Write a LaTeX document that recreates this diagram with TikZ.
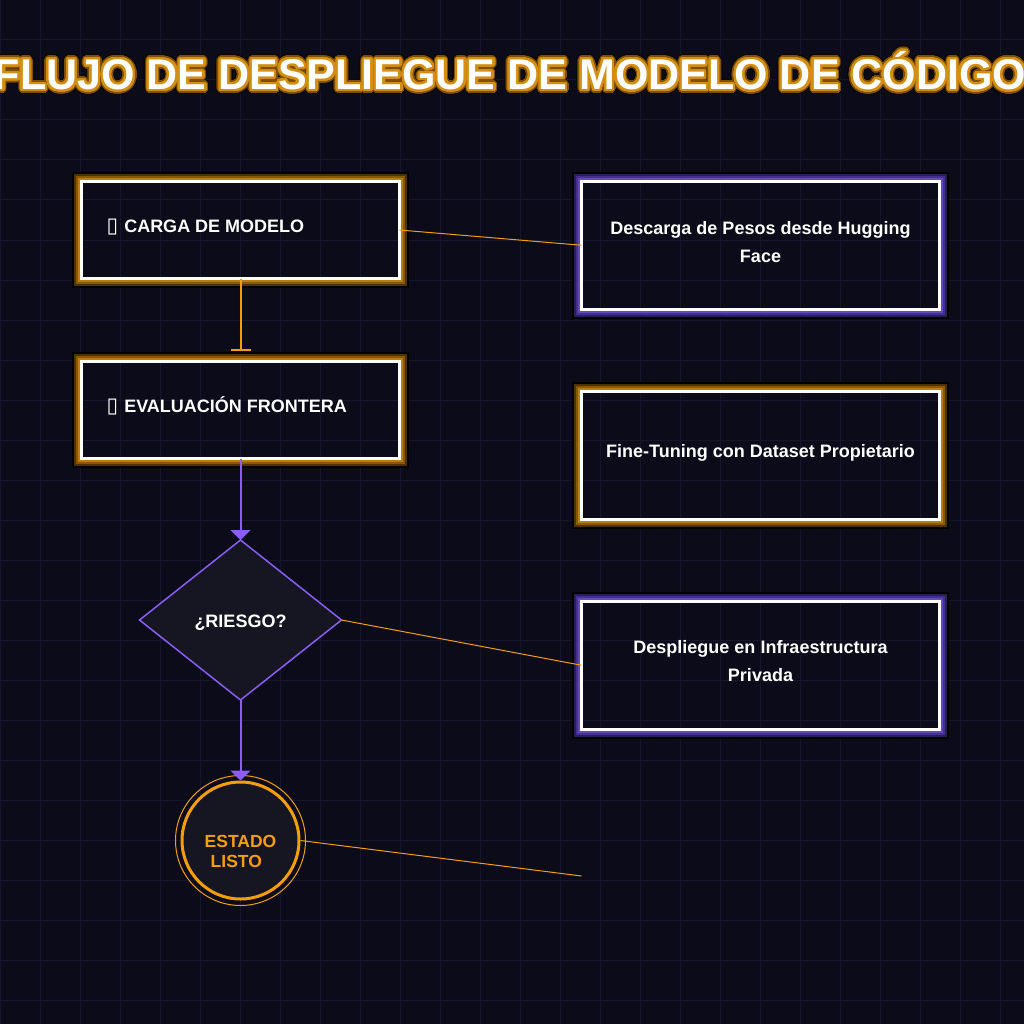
\documentclass[tikz,border=0pt]{standalone}
\usepackage{fontspec}
\setmainfont{Liberation Sans}
\newfontfamily\symfont{DejaVu Sans}
\usepackage[copies]{contour}
\usetikzlibrary{arrows.meta,shapes.geometric}
\definecolor{bg}{HTML}{0B0B1A}
\definecolor{gridc}{HTML}{15152B}
\definecolor{amber}{HTML}{F59E0B}
\definecolor{violet}{HTML}{8B5CF6}
\definecolor{shapefill}{HTML}{161622}
\definecolor{ob1}{HTML}{4E3202}
\definecolor{ob2}{HTML}{865807}
\definecolor{ob3}{HTML}{BC7D0C}
\definecolor{pb1}{HTML}{2A1E58}
\definecolor{pb2}{HTML}{44318A}
\definecolor{pb3}{HTML}{6548BE}
\definecolor{tl1}{HTML}{0D0800}
\definecolor{tl2}{HTML}{7D5005}
\definecolor{tl3}{HTML}{D48F12}
\newcommand\ttltext{FLUJO DE DESPLIEGUE DE MODELO DE CÓDIGO}
\newcommand\bands[4]{%
  \foreach \off/\col in {8.5/black,6.5/#2,4.5/#3,2.5/#4}{%
    \draw[draw=\col, line width=2pt] ([shift={(-\off pt,\off pt)}]#1.north west) rectangle ([shift={(\off pt,-\off pt)}]#1.south east);
  }}
\tikzset{
  card/.style={draw=white, line width=3pt, rectangle, outer sep=0pt, inner sep=0pt},
  smallcard/.style={card, minimum width=318pt, minimum height=97pt},
  bigcard/.style={card, minimum width=358pt, minimum height=127.5pt},
  lbl/.style={text=white, font=\bfseries\fontsize{18}{28}\selectfont, align=center, inner sep=0pt},
  flow/.style={draw=violet, line width=2pt, -{Triangle[length=10pt,width=20pt]}},
  teeflow/.style={draw=amber, line width=2pt, -{Bar[width=20pt,line width=2pt]}},
  link/.style={draw=amber, line width=1pt},
}
\begin{document}
\begin{tikzpicture}[x=1pt,y=-1pt]
\clip (0,0) rectangle (1024,1024);
\fill[bg] (0,0) rectangle (1024,1024);
\foreach \i in {0,40,...,1000}{
  \draw[gridc, line width=1pt] (\i,0) -- (\i,1024);
  \draw[gridc, line width=1pt] (0,\i) -- (1024,\i);
}
% title
\node[anchor=base, inner sep=0pt, text=white, font=\bfseries\fontsize{43}{50}\selectfont] (title) at (510,89.5)
  {\rlap{\contourlength{5pt}\contour[48]{tl1}{\ttltext}}\rlap{\contourlength{3.8pt}\contour[48]{tl2}{\ttltext}}\contourlength{2.3pt}\contour[48]{tl3}{\ttltext}};
% left column
\node[smallcard] (b1) at (240.5,230) {};
\bands{b1}{ob1}{ob2}{ob3}
\node[lbl, anchor=base west] (t1) at (106.5,232.3) {{\symfont\fontsize{21}{21}\selectfont ▯}\hspace{1pt} CARGA DE MODELO};
\node[smallcard] (b2) at (240.5,410) {};
\bands{b2}{ob1}{ob2}{ob3}
\node[lbl, anchor=base west] (t2) at (106.5,412.3) {{\symfont\fontsize{21}{21}\selectfont ▯}\hspace{1pt} EVALUACIÓN FRONTERA};
\node[diamond, draw=violet, fill=shapefill, line width=1.5pt, minimum width=202pt, minimum height=160pt, aspect=1.2625, inner sep=0pt, outer sep=0pt] (d) at (240.5,620) {};
\node[lbl, anchor=base] (td) at (240.5,627.3) {¿RIESGO?};
\draw[amber, line width=1pt] (240.5,840.5) circle (65pt);
\node[circle, draw=amber, fill=shapefill, line width=3pt, minimum size=117pt, inner sep=0pt] (c) at (240.5,840.5) {};
\node[lbl, text=amber, align=left, anchor=base west, font=\bfseries\fontsize{17.5}{20.5}\selectfont] (tc) at (204.5,867.7) {ESTADO\\\hspace*{6pt}LISTO};
% right column
\node[bigcard] (ba) at (760.5,245.25) {};
\bands{ba}{pb1}{pb2}{pb3}
\node[lbl, anchor=base] (ta) at (760.5,262) {Descarga de Pesos desde Hugging\\Face};
\node[bigcard] (bb) at (760.5,455.25) {};
\bands{bb}{ob1}{ob2}{ob3}
\node[lbl, anchor=base] (tb) at (760.5,457.5) {Fine-Tuning con Dataset Propietario};
\node[bigcard] (bc) at (760.5,665.25) {};
\bands{bc}{pb1}{pb2}{pb3}
\node[lbl, anchor=base] (tcc) at (760.5,681.7) {Despliegue en Infraestructura\\Privada};
% connectors
\draw[teeflow, shorten >=11pt] (b1.south) -- (b2.north);
\draw[flow] (b2.south) -- (d.north);
\draw[flow] (d.south) -- (c.north);
\coordinate (free) at (581.5,876);
\draw[link] (b1.east) -- (ba.west);
\draw[link] (d.east) -- (bc.west);
\draw[link] (c.east) -- (free);
\end{tikzpicture}
\end{document}
